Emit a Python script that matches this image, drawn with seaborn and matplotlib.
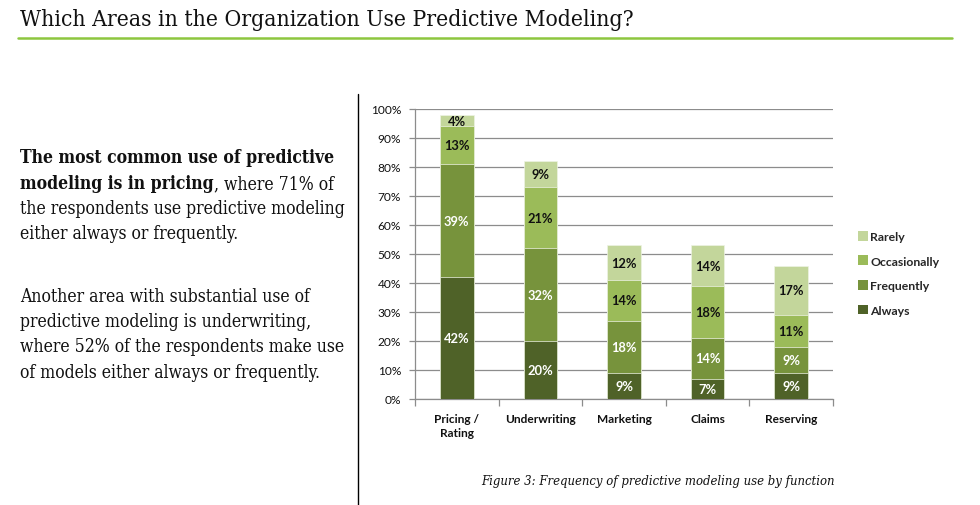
import matplotlib
matplotlib.use("Agg")
import matplotlib.pyplot as plt
import seaborn as sns
import pandas as pd
import numpy as np
from matplotlib.patches import Patch
from matplotlib.lines import Line2D

# ---- data ----
categories = ["Pricing /\nRating", "Underwriting", "Marketing", "Claims", "Reserving"]
always = [42, 20, 9, 7, 9]
frequently = [39, 32, 18, 14, 9]
occasionally = [13, 21, 14, 18, 11]
rarely = [4, 9, 12, 14, 17]
series_names = ["Always", "Frequently", "Occasionally", "Rarely"]
y_ticks = [0, 10, 20, 30, 40, 50, 60, 70, 80, 90, 100]

title = "Which Areas in the Organization Use Predictive Modeling?"
caption = "Figure 3: Frequency of predictive modeling use by function"

colors = {"Always": "#4f6228", "Frequently": "#77933c",
          "Occasionally": "#9bbb59", "Rarely": "#c3d69b"}
label_colors = {"Always": "white", "Frequently": "white",
                "Occasionally": "#111111", "Rarely": "#111111"}

sns.set_theme(style="white")
plt.rcParams["font.family"] = ["Lato", "DejaVu Sans"]

W, H = 980, 506
fig = plt.figure(figsize=(W / 100, H / 100), dpi=100)
fig.patch.set_facecolor("white")

def px(x, y):
    return x / W, 1 - y / H

ax = fig.add_axes([415 / W, 1 - 400 / H, 418 / W, 290 / H])

df = pd.DataFrame({"cat": categories, "Always": always, "Frequently": frequently,
                   "Occasionally": occasionally, "Rarely": rarely})
cum = df[series_names].cumsum(axis=1)

# draw tallest cumulative first so shorter ones overlay
for name in reversed(series_names):
    sns.barplot(x=df["cat"], y=cum[name], color=colors[name], width=0.4,
                saturation=1, ax=ax, zorder=3, edgecolor="#eef3e4", linewidth=0.5)

# segment labels
for i in range(len(categories)):
    for name in series_names:
        v = df.loc[i, name]
        top = cum.loc[i, name]
        ax.text(i, top - v / 2, f"{v}%", ha="center", va="center",
                fontsize=9.3, fontweight="bold", color=label_colors[name], zorder=5)

ax.set_ylim(0, 100)
ax.set_xlim(-0.5, len(categories) - 0.5)
ax.set_yticks(y_ticks)
ax.set_yticklabels([f"{t}%" for t in y_ticks], fontsize=8.6, color="#111111")
ax.set_xticks(range(len(categories)))
ax.set_xticklabels(categories, fontsize=8.6, fontweight="bold", color="#111111",
                   linespacing=1.3)
ax.set_xlabel("")
ax.set_ylabel("")
ax.yaxis.grid(True, color="#8c8c8c", linewidth=0.9, zorder=0)
ax.set_axisbelow(True)
for s in ["top", "right"]:
    ax.spines[s].set_visible(False)
for s in ["left", "bottom"]:
    ax.spines[s].set_color("#8c8c8c")
    ax.spines[s].set_linewidth(0.9)
ax.tick_params(axis="y", which="major", length=4, color="#8c8c8c", width=0.9,
               left=True, pad=6)
ax.tick_params(axis="x", which="major", length=0, pad=10)
ax.set_xticks(np.arange(-0.5, len(categories), 1.0), minor=True)
ax.tick_params(axis="x", which="minor", length=5, color="#8c8c8c", width=0.9,
               bottom=True, direction="out")
ax.set_facecolor("white")

# legend
handles = [Patch(facecolor=colors[n], edgecolor="none", label=n)
           for n in reversed(series_names)]
leg = fig.legend(handles=handles, loc="upper left", bbox_to_anchor=px(853, 227),
                 frameon=False, prop={"size": 8.8, "weight": "bold"},
                 handlelength=0.85, handleheight=0.85, handletextpad=0.15,
                 labelspacing=1.1, borderaxespad=0)

renderer = fig.canvas.get_renderer()

SERIF = dict(family=["DejaVu Serif"], stretch="condensed")

def fit_text(x, y, s, width_px, **kw):
    t = fig.text(*px(x, y), s, fontsize=10, **kw)
    w = t.get_window_extent(renderer).width
    t.set_fontsize(10 * width_px / w)
    return t

# title
fit_text(20, 20, title, 612, va="center", ha="left", color="#111111", **SERIF)
fig.add_artist(Line2D([18 / W, 952 / W], [1 - 38.5 / H] * 2, color="#8dc63f",
                      linewidth=1.8, transform=fig.transFigure))

# divider
fig.add_artist(Line2D([358 / W, 358 / W], [1 - 95 / H, 0], color="black",
                      linewidth=1.0, transform=fig.transFigure))

# left text
ref = fit_text(20, -50, "the respondents use predictive modeling", 326, **SERIF)
fs = ref.get_fontsize()
ref.remove()
serif = dict(fontsize=fs, va="center", ha="left", color="#111111", **SERIF)

def line(y, parts):
    x = 20
    for s, bold in parts:
        t = fig.text(*px(x, y), s, fontweight="bold" if bold else "normal", **serif)
        x += t.get_window_extent(renderer).width

line(158, [("The most common use of predictive", True)])
line(184, [("modeling is in pricing", True), (", where 71% of", False)])
line(209, [("the respondents use predictive modeling", False)])
line(234, [("either always or frequently.", False)])
line(297, [("Another area with substantial use of", False)])
line(322, [("predictive modeling is underwriting,", False)])
line(347, [("where 52% of the respondents make use", False)])
line(373, [("of models either always or frequently.", False)])

# caption
fit_text(481, 482, caption, 354, style="italic", va="center", ha="left",
         color="#111111", **SERIF)

fig.savefig("out.png", dpi=100)
